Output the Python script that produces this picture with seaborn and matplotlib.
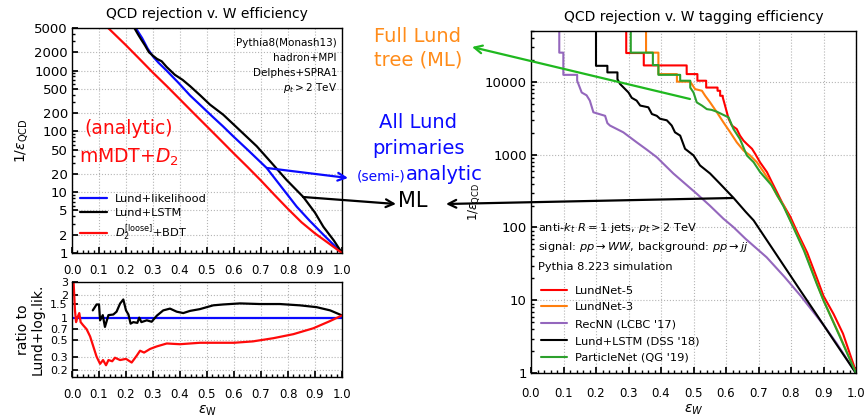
import numpy as np
import matplotlib
matplotlib.use("Agg")
import matplotlib.pyplot as plt
import seaborn as sns
from matplotlib.patches import FancyArrowPatch
from matplotlib.ticker import FixedLocator, FixedFormatter, NullLocator, MultipleLocator, LogLocator, NullFormatter

# ---------------- data: left top panel (1/eps_QCD vs eps_W) ----------------
lik_x = [0.225, 0.236, 0.26, 0.28, 0.30, 0.32, 0.35, 0.394, 0.437, 0.48, 0.52, 0.56, 0.597, 0.65, 0.721, 0.78, 0.832, 0.88, 0.931, 0.97, 1.0]
lik_y = [6000, 5000, 3400, 2300, 1700, 1350, 1000, 630, 390, 258, 175, 120, 83, 50, 25, 11.5, 5.8, 3.4, 2.0, 1.35, 1.0]

lstm_x = [0.22, 0.231, 0.245, 0.255, 0.27, 0.285, 0.30, 0.315, 0.332, 0.35, 0.381, 0.41, 0.438, 0.475, 0.511, 0.56, 0.60, 0.684, 0.74, 0.794, 0.857, 0.90, 0.931, 0.97, 1.0]
lstm_y = [6000, 5000, 3900, 3300, 2600, 2000, 1750, 1550, 1420, 1150, 850, 700, 550, 390, 275, 188, 128, 57, 30, 16, 8.3, 4.6, 2.7, 1.6, 1.0]

d2_x = [0.12, 0.134, 0.20, 0.25, 0.30, 0.35, 0.40, 0.45, 0.50, 0.55, 0.60, 0.65, 0.70, 0.75, 0.80, 0.85, 0.90, 0.95, 1.0]
d2_y = [5800, 5000, 2600, 1550, 920, 560, 335, 200, 120, 72, 43, 26, 15.5, 9.0, 5.3, 3.2, 2.1, 1.45, 1.0]

# ---------------- data: left bottom panel (ratio to Lund+log.lik.) ----------------
rat_lik_x = [0.0, 1.0]
rat_lik_y = [1.0, 1.0]

rat_lstm_x = [0.077, 0.091, 0.10, 0.104, 0.114, 0.122, 0.135, 0.153, 0.165, 0.178, 0.19, 0.20, 0.209, 0.217, 0.227, 0.242, 0.249, 0.257, 0.277, 0.295, 0.314, 0.338, 0.363, 0.388, 0.412, 0.437, 0.474, 0.499, 0.523, 0.56, 0.622, 0.696, 0.77, 0.844, 0.906, 0.956, 1.0]
rat_lstm_y = [1.25, 1.5, 1.5, 0.92, 1.08, 0.75, 1.08, 1.1, 1.2, 1.54, 1.75, 1.25, 1.1, 0.83, 0.87, 0.85, 1.0, 0.87, 0.92, 0.88, 1.06, 1.25, 1.32, 1.2, 1.15, 1.23, 1.3, 1.38, 1.46, 1.5, 1.55, 1.52, 1.52, 1.46, 1.38, 1.25, 1.07]

rat_d2_x = [0.005, 0.011, 0.015, 0.02, 0.027, 0.032, 0.04, 0.054, 0.067, 0.079, 0.091, 0.104, 0.115, 0.126, 0.135, 0.149, 0.159, 0.178, 0.20, 0.221, 0.24, 0.252, 0.267, 0.289, 0.313, 0.351, 0.40, 0.474, 0.60, 0.67, 0.746, 0.82, 0.894, 0.956, 1.0]
rat_d2_y = [3.5, 1.25, 0.87, 1.0, 1.15, 0.87, 0.8, 0.7, 0.56, 0.41, 0.30, 0.24, 0.27, 0.23, 0.27, 0.26, 0.29, 0.27, 0.28, 0.25, 0.31, 0.36, 0.34, 0.38, 0.41, 0.45, 0.44, 0.46, 0.46, 0.48, 0.53, 0.60, 0.72, 0.90, 1.07]

# ---------------- data: right panel ----------------
ln5_x = [0.25, 0.293, 0.293, 0.347, 0.347, 0.479, 0.479, 0.512, 0.512, 0.539, 0.539, 0.574, 0.574, 0.582, 0.582, 0.59, 0.59, 0.597, 0.608, 0.618, 0.633, 0.643, 0.654, 0.664, 0.68, 0.69, 0.705, 0.726, 0.741, 0.757, 0.772, 0.787, 0.798, 0.82, 0.85, 0.88, 0.90, 0.931, 0.96, 1.0]
ln5_y = [50000, 50000, 24700, 24700, 16700, 16700, 12700, 12700, 10300, 10300, 8300, 8300, 7500, 7500, 6400, 6400, 6100, 4700, 3100, 2500, 2240, 1820, 1550, 1400, 1200, 1020, 780, 575, 420, 303, 222, 170, 140, 85, 45, 20, 11.5, 6.5, 3.5, 1.05]

ln3_x = [0.30, 0.354, 0.354, 0.392, 0.392, 0.449, 0.449, 0.49, 0.505, 0.526, 0.536, 0.551, 0.572, 0.592, 0.613, 0.633, 0.654, 0.674, 0.695, 0.716, 0.736, 0.757, 0.777, 0.80, 0.84, 0.88, 0.90, 0.95, 1.0]
ln3_y = [50000, 50000, 25000, 25000, 12700, 12700, 10000, 10000, 7900, 7500, 6400, 5200, 3800, 2770, 2020, 1475, 1135, 975, 785, 575, 418, 275, 200, 120, 50, 17, 10, 3.3, 1.0]

recnn_x = [0.02, 0.087, 0.087, 0.0995, 0.0995, 0.142, 0.142, 0.156, 0.171, 0.181, 0.192, 0.228, 0.235, 0.243, 0.284, 0.325, 0.356, 0.387, 0.438, 0.51, 0.55, 0.592, 0.623, 0.66, 0.725, 0.78, 0.83, 0.90, 0.94, 1.0]
recnn_y = [50000, 50000, 25000, 25000, 12400, 12400, 10300, 7100, 6500, 5500, 3800, 3400, 2700, 2500, 2020, 1475, 1170, 920, 550, 290, 200, 132, 101, 70, 39, 21, 11.5, 4.6, 2.6, 1.0]

dss_x = [0.10, 0.20, 0.20, 0.235, 0.235, 0.266, 0.266, 0.274, 0.30, 0.31, 0.325, 0.336, 0.361, 0.372, 0.387, 0.397, 0.418, 0.433, 0.443, 0.459, 0.474, 0.50, 0.52, 0.551, 0.58, 0.623, 0.66, 0.685, 0.75, 0.787, 0.83, 0.87, 0.931, 1.0]
dss_y = [50000, 50000, 16500, 16500, 13400, 13400, 10800, 9300, 7100, 6000, 5500, 4700, 4450, 3600, 3400, 3100, 2950, 2500, 2020, 1820, 1200, 975, 710, 550, 405, 255, 165, 125, 46, 26, 13.4, 7.3, 2.86, 1.0]

pnet_x = [0.29, 0.307, 0.307, 0.375, 0.375, 0.392, 0.392, 0.459, 0.459, 0.49, 0.49, 0.50, 0.51, 0.526, 0.541, 0.556, 0.572, 0.592, 0.608, 0.623, 0.643, 0.664, 0.685, 0.705, 0.74, 0.777, 0.80, 0.84, 0.88, 0.90, 0.95, 1.0]
pnet_y = [50000, 50000, 25000, 25000, 16900, 16900, 12400, 12400, 10300, 10300, 8300, 7100, 5200, 4700, 4200, 4100, 3870, 3500, 3240, 2240, 1630, 975, 785, 575, 380, 195, 118, 48, 16.5, 10, 3.2, 1.0]

left_yticks = [1, 2, 5, 10, 20, 50, 100, 200, 500, 1000, 2000, 5000]
ratio_yticks = [0.2, 0.3, 0.5, 0.7, 1, 1.5, 2, 3]
ratio_ylabels = ['0.2', '0.3', '0.5', '0.7', '1', '1.5', '2', '3']
right_yticks = [1, 10, 100, 1000, 10000]
xtick_vals = [0.0, 0.1, 0.2, 0.3, 0.4, 0.5, 0.6, 0.7, 0.8, 0.9, 1.0]
xtick_labels = ['0.0', '0.1', '0.2', '0.3', '0.4', '0.5', '0.6', '0.7', '0.8', '0.9', '1.0']

# ---------------- style ----------------
sns.set_theme(style="ticks", rc={
    'text.color': 'black', 'axes.labelcolor': 'black', 'xtick.color': 'black',
    'ytick.color': 'black', 'axes.edgecolor': 'black', 'axes.linewidth': 1.0,
    'xtick.direction': 'in', 'ytick.direction': 'in'})
plt.rcParams['font.family'] = ['DejaVu Sans']
plt.rcParams['mathtext.fontset'] = 'dejavusans'

W, H = 866, 420
fig = plt.figure(figsize=(8.66, 4.2), dpi=100)


def fx(px):
    return px / W


def fy(py):
    return 1 - py / H


ax1 = fig.add_axes([fx(72), fy(253), (342 - 72) / W, (253 - 28) / H])
ax2 = fig.add_axes([fx(72), fy(377), (342 - 72) / W, (377 - 282) / H])
ax3 = fig.add_axes([fx(531), fy(373.3), (856 - 531) / W, (373.3 - 30.7) / H])

BLUE = '#0a0aff'
RED = '#ff0a0a'
LW = 1.6


def setup_x(ax, labelsize=8.5, pad=8):
    ax.set_xlim(0, 1)
    ax.xaxis.set_major_locator(FixedLocator(xtick_vals))
    ax.xaxis.set_major_formatter(FixedFormatter(xtick_labels))
    ax.xaxis.set_minor_locator(MultipleLocator(0.02))
    ax.tick_params(axis='x', which='major', labelsize=labelsize, length=4, pad=pad)
    ax.tick_params(axis='x', which='minor', length=2.5)


# ---- left top ----
for xs, ys, c, lab in [(lik_x, lik_y, BLUE, 'Lund+likelihood'),
                       (lstm_x, lstm_y, 'black', 'Lund+LSTM'),
                       (d2_x, d2_y, RED, r'$D_2^{[\rm loose]}$+BDT')]:
    sns.lineplot(x=xs, y=ys, ax=ax1, color=c, lw=LW, estimator=None, sort=False, label=lab)
ax1.set_yscale('log')
ax1.set_ylim(1, 5000)
ax1.yaxis.set_major_locator(FixedLocator(left_yticks))
ax1.yaxis.set_major_formatter(FixedFormatter([str(v) for v in left_yticks]))
ax1.yaxis.set_minor_locator(LogLocator(base=10, subs=np.arange(2, 10)))
ax1.yaxis.set_minor_formatter(NullFormatter())
setup_x(ax1, labelsize=8.5, pad=8)
ax1.tick_params(axis='y', labelsize=9.5, length=4, pad=3)
ax1.tick_params(axis='y', which='minor', length=2.5)
ax1.grid(True, which='major', ls=':', color='#b5b5b5', lw=0.8)
ax1.set_ylabel(r'$1/\varepsilon_{\rm QCD}$', fontsize=10, labelpad=3)
ax1.set_xlabel('')
ax1.set_title('QCD rejection v. W efficiency', fontsize=10, pad=7)
ax1.legend(loc='lower left', bbox_to_anchor=(0.012, 0.022), borderaxespad=0, frameon=False,
           fontsize=8.2, handlelength=2.4, handletextpad=0.7, labelspacing=0.4)

for i, s in enumerate(['Pythia8(Monash13)', 'hadron+MPI', 'Delphes+SPRA1', r'$p_t > 2$ TeV']):
    fig.text(fx(337), fy(43 + 15 * i), s, ha='right', va='center', fontsize=7.5)

fig.text(fx(129), fy(128), '(analytic)', ha='center', va='center', fontsize=13.5, color=RED)
fig.text(fx(129), fy(157), r'mMDT$+D_2$', ha='center', va='center', fontsize=13.5, color=RED)

# ---- left bottom (ratio) ----
sns.lineplot(x=rat_lik_x, y=rat_lik_y, ax=ax2, color=BLUE, lw=LW, estimator=None, sort=False, legend=False)
sns.lineplot(x=rat_lstm_x, y=rat_lstm_y, ax=ax2, color='black', lw=LW, estimator=None, sort=False, legend=False)
sns.lineplot(x=rat_d2_x, y=rat_d2_y, ax=ax2, color=RED, lw=LW, estimator=None, sort=False, legend=False)
ax2.set_yscale('log')
ax2.set_ylim(0.16, 3)
ax2.yaxis.set_major_locator(FixedLocator(ratio_yticks))
ax2.yaxis.set_major_formatter(FixedFormatter(ratio_ylabels))
ax2.yaxis.set_minor_locator(NullLocator())
setup_x(ax2, labelsize=8.5, pad=8)
ax2.tick_params(axis='y', labelsize=8, length=4, pad=3)
ax2.grid(True, which='major', ls=':', color='#b5b5b5', lw=0.8)
ax2.set_ylabel('ratio to\nLund+log.lik.', fontsize=10, labelpad=4, linespacing=1.05)
ax2.set_xlabel(r'$\varepsilon_{\rm W}$', fontsize=10, labelpad=2)

# ---- right panel ----
for xs, ys, c, lab in [(ln5_x, ln5_y, '#ff0000', 'LundNet-5'),
                       (ln3_x, ln3_y, '#ff7f0e', 'LundNet-3'),
                       (recnn_x, recnn_y, '#9467bd', "RecNN (LCBC '17)"),
                       (dss_x, dss_y, 'black', "Lund+LSTM (DSS '18)"),
                       (pnet_x, pnet_y, '#2ca02c', "ParticleNet (QG '19)")]:
    sns.lineplot(x=xs, y=ys, ax=ax3, color=c, lw=1.5, estimator=None, sort=False, label=lab)
ax3.set_yscale('log')
ax3.set_ylim(1, 50000)
ax3.yaxis.set_major_locator(FixedLocator(right_yticks))
ax3.yaxis.set_major_formatter(FixedFormatter([str(v) for v in right_yticks]))
ax3.yaxis.set_minor_locator(LogLocator(base=10, subs=np.arange(2, 10)))
ax3.yaxis.set_minor_formatter(NullFormatter())
setup_x(ax3, labelsize=8.5, pad=10)
ax3.tick_params(axis='y', labelsize=9.5, length=4, pad=3)
ax3.tick_params(axis='y', which='minor', length=2.5)
ax3.grid(True, which='major', ls=':', color='#b5b5b5', lw=0.8)
ax3.set_ylabel(r'$1/\varepsilon_{\rm QCD}$', fontsize=8.5, labelpad=2)
ax3.set_xlabel(r'$\varepsilon_W$', fontsize=10, labelpad=2)
ax3.set_title('QCD rejection v. W tagging efficiency', fontsize=10, pad=7)
ax3.legend(loc='lower left', bbox_to_anchor=(0.017, 0.017), borderaxespad=0, frameon=False,
           fontsize=8.2, handlelength=2.3, handletextpad=0.7, labelspacing=0.6)

fig.text(fx(538), fy(228), r'anti-$k_t$ $R=1$ jets, $p_t > 2$ TeV', ha='left', va='center', fontsize=8.2)
fig.text(fx(538), fy(247), r'signal: $pp \to WW$, background: $pp \to jj$', ha='left', va='center', fontsize=8.2)
fig.text(fx(538), fy(267), 'Pythia 8.223 simulation', ha='left', va='center', fontsize=8.2)

# ---- annotations between panels ----
ORANGE = '#ff8c1a'
GREEN = '#1fb81f'
fig.text(fx(418), fy(36), 'Full Lund', ha='center', va='center', fontsize=14, color=ORANGE)
fig.text(fx(418), fy(60), 'tree (ML)', ha='center', va='center', fontsize=14, color=ORANGE)
fig.text(fx(418), fy(122), 'All Lund', ha='center', va='center', fontsize=14, color=BLUE)
fig.text(fx(418), fy(148), 'primaries', ha='center', va='center', fontsize=14, color=BLUE)
fig.text(fx(405), fy(180), '(semi-)', ha='right', va='baseline', fontsize=10, color=BLUE)
fig.text(fx(406), fy(180), 'analytic', ha='left', va='baseline', fontsize=14, color=BLUE)
fig.text(fx(413), fy(201), 'ML', ha='center', va='center', fontsize=15, color='black')


def arrow(p0, p1, color):
    a = FancyArrowPatch((fx(p0[0]), fy(p0[1])), (fx(p1[0]), fy(p1[1])), transform=fig.transFigure,
                        arrowstyle='->', mutation_scale=14, lw=1.6, color=color, shrinkA=0, shrinkB=0)
    fig.add_artist(a)


arrow((690, 99), (472, 47), GREEN)
arrow((267, 168), (348, 178), BLUE)
arrow((303, 197), (396, 204), 'black')
arrow((733, 198), (446, 204), 'black')

fig.savefig('out.png', dpi=100)
